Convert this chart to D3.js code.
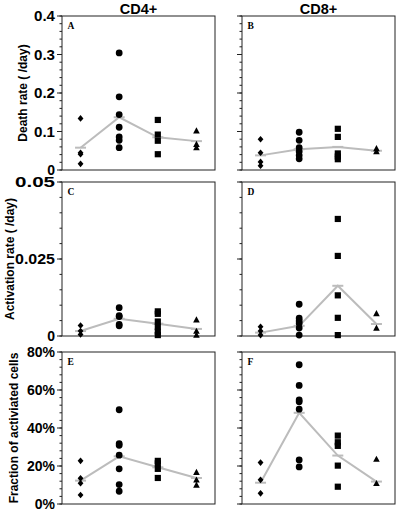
<!DOCTYPE html>
<html><head><meta charset="utf-8">
<script src="https://cdn.jsdelivr.net/npm/d3@7/dist/d3.min.js"></script>
<style>body{margin:0;background:#fff}svg{display:block}</style>
</head><body>
<svg id="c" width="400" height="515"></svg>
<script>
// ---- data ----
const groups = ["G1","G2","G3","G4"];           // diamond, circle, square, triangle
const columnTitles = ["CD4+","CD8+"];
const rowTitles = ["Death rate ( /day)","Activation rate ( /day)","Fraction of activiated cells"];
const panelLetters = ["A","B","C","D","E","F"];

const deathCD4 = [[0.134,0.045,0.041,0.016],[0.304,0.190,0.144,0.111,0.086,0.077,0.058],[0.130,0.092,0.076,0.041],[0.102,0.067,0.058]];
const deathCD4Mean = [0.058,0.137,0.085,0.075];
const deathCD8 = [[0.080,0.045,0.021,0.011],[0.098,0.077,0.058,0.048,0.038,0.029],[0.107,0.086,0.043,0.035,0.028],[0.056,0.048]];
const deathCD8Mean = [0.038,0.054,0.060,0.050];

const actCD4 = [[0.0034,0.0016,0.0005],[0.0092,0.0066,0.0063,0.0038,0.0033],[0.0080,0.0072,0.0047,0.0030,0.0014,0.0003],[0.0053,0.0016,0.0003]];
const actCD4Mean = [0.0016,0.0056,0.0040,0.0023];
const actCD8 = [[0.0030,0.0016,0.0003],[0.0103,0.0058,0.0049,0.0041,0.0026,0.0003],[0.0380,0.0260,0.0132,0.0059,0.0003],[0.0073,0.0026]];
const actCD8Mean = [0.0011,0.0033,0.0163,0.0039];

const fracCD4 = [[22.7,13.5,10.9,4.7],[49.6,31.8,30.9,25.7,18.5,10.2,6.7],[22.7,21.4,18.5,13.7],[16.7,12.7,10.0]];
const fracCD4Mean = [12.3,25.1,19.3,13.7];
const fracCD8 = [[21.8,12.7,5.6],[73.3,62.4,54.8,53.8,49.9,23.2,19.5],[36.0,32.5,30.6,20.2,9.1],[23.6,10.9]];
const fracCD8Mean = [11.2,48.0,25.5,11.8];

const deathTicks = [0,0.1,0.2,0.3,0.4];
const deathTickLabels = ["0","0.1","0.2","0.3","0.4"];
const actTicks = [0,0.025,0.05];
const actTickLabels = ["0","0.025","0.05"];
const fracTicks = [0,20,40,60,80];
const fracTickLabels = ["0%","20%","40%","60%","80%"];

// ---- layout ----
const colX = [62,242], panelW = 153;
const rows = [
  {top:16, bottom:170, max:0.4, minor:0.02, ticks:deathTicks, labels:deathTickLabels, data:[deathCD4,deathCD8], means:[deathCD4Mean,deathCD8Mean], labW:{"0.1":21,"0.2":21,"0.3":21,"0.4":21}, titleX:23},
  {top:182, bottom:336, max:0.05, minor:0.005, ticks:actTicks, labels:actTickLabels, data:[actCD4,actCD8], means:[actCD4Mean,actCD8Mean], labW:{"0.025":40,"0.05":40}, titleX:10},
  {top:352, bottom:504, max:80, minor:4, ticks:fracTicks, labels:fracTickLabels, data:[fracCD4,fracCD8], means:[fracCD4Mean,fracCD8Mean], labW:{}, titleX:14}
];

const svg = d3.select("#c");
const ink = "#222";

const shapes = [
  {draw(ctx){ctx.moveTo(0,-3.3);ctx.lineTo(2.9,0);ctx.lineTo(0,3.3);ctx.lineTo(-2.9,0);ctx.closePath();}},
  {draw(ctx){ctx.moveTo(3.4,0);ctx.arc(0,0,3.4,0,2*Math.PI);}},
  {draw(ctx){ctx.rect(-3.1,-3.1,6.2,6.2);}},
  {draw(ctx){ctx.moveTo(0,-3.4);ctx.lineTo(3.3,2.7);ctx.lineTo(-3.3,2.7);ctx.closePath();}}
];

columnTitles.forEach((t,i)=>{
  svg.append("text").attr("x",colX[i]+panelW/2).attr("y",14)
    .attr("text-anchor","middle").attr("font-family","Liberation Sans, Arial, sans-serif")
    .attr("font-weight","bold").attr("font-size",14.5).text(t);
});

rows.forEach((r,ri)=>{
  const y = d3.scaleLinear().domain([0,r.max]).range([r.bottom,r.top]);
  // row title
  svg.append("text")
    .attr("transform",`translate(${r.titleX},${(r.top+r.bottom)/2}) rotate(-90)`)
    .attr("text-anchor","middle").attr("dy","0.35em")
    .attr("font-family","Liberation Sans, Arial, sans-serif").attr("font-weight","bold")
    .attr("font-size",12).text(rowTitles[ri]);

  [0,1].forEach(ci=>{
    const x0 = colX[ci];
    const g = svg.append("g").attr("transform",`translate(${x0},0)`);
    const x = d3.scalePoint().domain(groups).range([0,panelW]).padding(0.48);
    // box
    g.append("rect").attr("x",0).attr("y",r.top).attr("width",panelW).attr("height",r.bottom-r.top)
      .attr("fill","none").attr("stroke",ink).attr("stroke-width",1);
    // minor ticks
    const nMinor = Math.round(r.max/r.minor);
    const minorVals = d3.range(nMinor+1).map(k=>k*r.minor);
    g.selectAll(null).data(minorVals).join("line")
      .attr("x1",-2.5).attr("x2",0).attr("y1",d=>y(d)).attr("y2",d=>y(d))
      .attr("stroke",ink).attr("stroke-width",1);
    // major ticks
    g.selectAll(null).data(r.ticks).join("line")
      .attr("x1",-5).attr("x2",0).attr("y1",d=>y(d)).attr("y2",d=>y(d))
      .attr("stroke",ink).attr("stroke-width",1);
    if(ci===0){
      r.ticks.forEach((t,k)=>{
        const lab = r.labels[k];
        const tx = g.append("text").attr("x",-7).attr("y",y(t)).attr("dy","0.36em")
          .attr("text-anchor","end").attr("font-family","Liberation Sans, Arial, sans-serif")
          .attr("font-weight","bold").attr("font-size",14).text(lab);
        if(r.labW[lab]){ tx.attr("textLength",r.labW[lab]).attr("lengthAdjust","spacingAndGlyphs"); }
      });
    }
    // panel letter
    g.append("text").attr("x",5.5).attr("y",r.top+12.5)
      .attr("font-family","Liberation Serif, Times New Roman, serif").attr("font-weight","bold")
      .attr("font-size",9.5).text(panelLetters[ri*2+ci]);
    // mean line
    const means = r.means[ci];
    g.append("path").datum(means)
      .attr("d",d3.line().x((d,i)=>x(groups[i])).y(d=>y(d)))
      .attr("fill","none").attr("stroke","#bcbcbc").attr("stroke-width",2);
    g.selectAll(null).data(means).join("line")
      .attr("x1",(d,i)=>x(groups[i])-5.5).attr("x2",(d,i)=>x(groups[i])+5.5)
      .attr("y1",d=>y(d)).attr("y2",d=>y(d))
      .attr("stroke","#bcbcbc").attr("stroke-width",2);
    // points
    r.data[ci].forEach((vals,gi)=>{
      const sym = d3.symbol().type(shapes[gi]);
      g.selectAll(null).data(vals).join("path")
        .attr("d",sym())
        .attr("transform",d=>`translate(${x(groups[gi])},${y(d)})`)
        .attr("fill","#000");
    });
  });
});
</script>
</body></html>
